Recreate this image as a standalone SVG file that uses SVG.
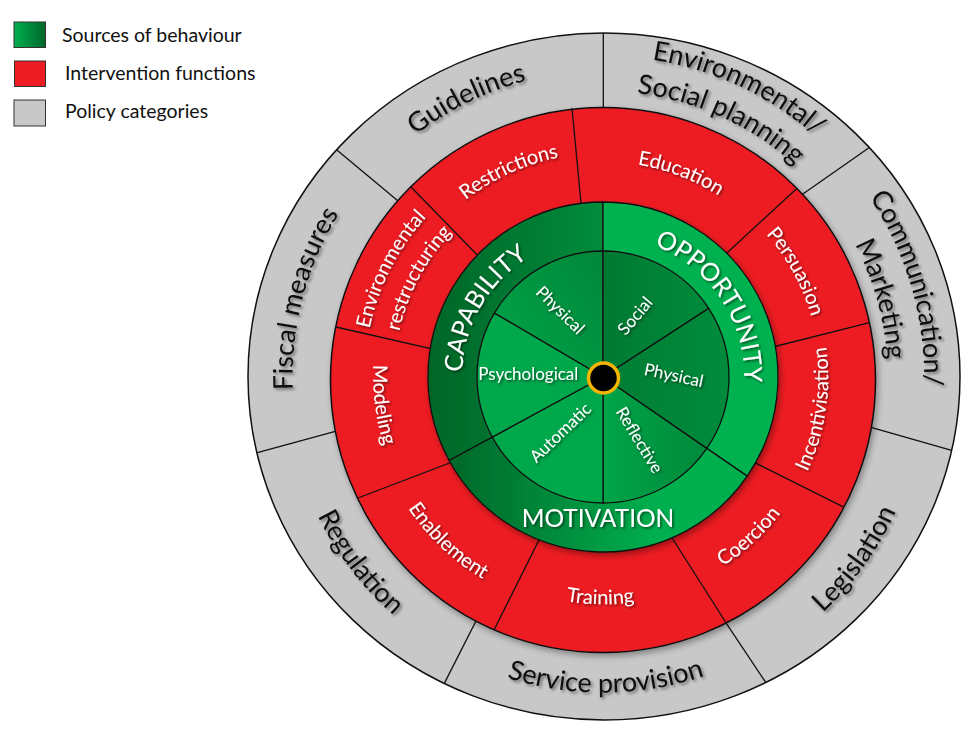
<svg xmlns="http://www.w3.org/2000/svg" width="980" height="741" viewBox="0 0 980 741">
<style>
.lt{font-family:Lato,"Liberation Sans",sans-serif;font-size:19.5px;fill:#111}
.grey{font-family:Lato,"Liberation Sans",sans-serif;font-size:27px;fill:#111;filter:url(#tsg)}
.red{font-family:Lato,"Liberation Sans",sans-serif;font-size:20px;fill:#fff;filter:url(#tsw)}
.big{font-family:Lato,"Liberation Sans",sans-serif;font-size:25px;fill:#fff;filter:url(#tsw)}
.in{font-family:Lato,"Liberation Sans",sans-serif;font-size:17px;fill:#fff;filter:url(#tsw)}
.ln{stroke:#111;stroke-width:1.3;fill:none}
.sec{stroke:#111;stroke-width:1.3}
</style>
<defs>
<filter id="tsg" x="-20%" y="-30%" width="140%" height="160%"><feDropShadow dx="2" dy="2" stdDeviation="1.4" flood-color="#000" flood-opacity="0.45"/></filter>
<filter id="tsw" x="-20%" y="-30%" width="140%" height="160%"><feDropShadow dx="1.5" dy="1.5" stdDeviation="1.2" flood-color="#000" flood-opacity="0.55"/></filter>
<filter id="rs" x="-10%" y="-10%" width="120%" height="120%"><feDropShadow dx="2" dy="3" stdDeviation="3" flood-color="#000" flood-opacity="0.35"/></filter>
<linearGradient id="legG" x1="0" y1="0" x2="1" y2="0"><stop offset="0" stop-color="#00b050"/><stop offset="1" stop-color="#00662a"/></linearGradient>
<linearGradient id="capG" gradientUnits="userSpaceOnUse" x1="430" y1="0" x2="603" y2="0"><stop offset="0" stop-color="#006628"/><stop offset="1" stop-color="#008c3b"/></linearGradient>
<linearGradient id="motG" gradientUnits="userSpaceOnUse" x1="445" y1="0" x2="660" y2="0"><stop offset="0" stop-color="#006628"/><stop offset="1" stop-color="#00b04f"/></linearGradient>
<linearGradient id="physCG" gradientUnits="userSpaceOnUse" x1="500" y1="330" x2="603" y2="255"><stop offset="0" stop-color="#00a046"/><stop offset="1" stop-color="#00873a"/></linearGradient>
<linearGradient id="socG" gradientUnits="userSpaceOnUse" x1="603" y1="0" x2="708" y2="0"><stop offset="0" stop-color="#007a33"/><stop offset="1" stop-color="#008a3a"/></linearGradient>
<linearGradient id="physOG" gradientUnits="userSpaceOnUse" x1="603" y1="0" x2="729" y2="0"><stop offset="0" stop-color="#007d35"/><stop offset="1" stop-color="#008b3b"/></linearGradient>
<linearGradient id="refG" gradientUnits="userSpaceOnUse" x1="603" y1="0" x2="710" y2="0"><stop offset="0" stop-color="#00a548"/><stop offset="1" stop-color="#00883a"/></linearGradient>
<path id="pG1" d="M317.5,487.2 A306,306 0 0 1 865,219"/>
<path id="pG2a" d="M325.3,216 A321,321 0 0 1 904.5,487.3"/>
<path id="pG2b" d="M354.1,236.2 A286,286 0 0 1 872.6,472.5"/>
<path id="pG3a" d="M540.7,62.1 A321,321 0 0 1 719.1,676.3"/>
<path id="pG3b" d="M550.1,97 A285,285 0 0 1 703.7,643.6"/>
<path id="pG4" d="M438.1,653.6 A322,322 0 0 0 813.4,133.2"/>
<path id="pG5" d="M288.5,407.3 A316,316 0 0 0 918,401.8"/>
<path id="pG6" d="M389.7,142.5 A317,317 0 0 0 772.4,645"/>
<path id="pG7" d="M498.5,668.9 A310,310 0 0 1 655.2,71.4"/>
<path id="pR1" d="M392,452.2 A224,224 0 0 1 797.8,266.4"/>
<path id="pR2" d="M409.6,283.1 A215,215 0 0 1 809.8,435.9"/>
<path id="pR3" d="M515.8,178.3 A217,217 0 0 1 723.4,557.5"/>
<path id="pR4" d="M588.9,601.6 A225,225 0 0 0 655.9,158.3"/>
<path id="pR5" d="M451.4,541.9 A224,224 0 0 0 780.9,240.9"/>
<path id="pR6" d="M376.6,394 A227,227 0 0 0 828.9,399.5"/>
<path id="pR7" d="M418.8,231 A235,235 0 0 0 759,552.7"/>
<path id="pR8" d="M554.4,152.2 A230,230 0 0 0 611.8,606.8"/>
<path id="pR9a" d="M477.2,579.1 A238,238 0 0 1 691.8,156.2"/>
<path id="pR9b" d="M488.6,551.9 A209,209 0 0 1 685.3,184.9"/>
<path id="pCap" d="M512.4,485 A141,141 0 0 1 651.2,244.5"/>
<path id="pOpp" d="M547.2,247.5 A141,141 0 0 1 699.8,479.6"/>
</defs>

<g id="legend">
<rect x="14" y="22" width="31.5" height="25.5" fill="url(#legG)" stroke="#333" stroke-width="1"/>
<text class="lt" x="62" y="42">Sources of behaviour</text>
<rect x="14.5" y="61" width="31" height="25.5" fill="#ed1c24" stroke="#333" stroke-width="1"/>
<text class="lt" x="65" y="80">Intervention functions</text>
<rect x="14" y="100" width="31.5" height="26" fill="#c8c8c8" stroke="#333" stroke-width="1"/>
<text class="lt" x="65" y="118">Policy categories</text>
</g>

<g id="policy-ring">
<ellipse cx="604" cy="376.5" rx="356" ry="343.5" fill="#c8c8c8" stroke="#111" stroke-width="1.5"/>
</g>
<g id="policy-dividers" class="ln">
<line x1="603.3" y1="33" x2="603.3" y2="130"/>
<line x1="336.6" y1="149.7" x2="420" y2="219.2"/>
<line x1="256.5" y1="452.8" x2="360" y2="424.6"/>
<line x1="444.2" y1="683.6" x2="485" y2="603.3"/>
<line x1="765.9" y1="682.7" x2="715" y2="606.4"/>
<line x1="951.7" y1="450.3" x2="850" y2="421.4"/>
<line x1="869" y1="147.7" x2="790" y2="203"/>
</g>

<g id="intervention-ring">
<circle cx="603" cy="380" r="272.5" fill="#ed1c24" stroke="#111" stroke-width="1.5" filter="url(#rs)"/>
</g>
<g id="intervention-dividers" class="ln">
<line x1="572" y1="108" x2="582.6" y2="220"/>
<line x1="410.8" y1="186.8" x2="481" y2="258.8"/>
<line x1="336" y1="327" x2="445" y2="351.9"/>
<line x1="358" y1="498" x2="460" y2="459"/>
<line x1="545" y1="528" x2="494.1" y2="629.8"/>
<line x1="660.6" y1="520" x2="726.2" y2="623"/>
<line x1="744" y1="457.2" x2="843.8" y2="507.1"/>
<line x1="765" y1="349" x2="869.5" y2="322.6"/>
<line x1="717" y1="262.2" x2="796.8" y2="188.4"/>
</g>

<g id="sources" filter="url(#rs)">
<path id="capability" class="sec" fill="url(#capG)" d="M603,377 L449.2,460.5 A175,175 0 0 1 603,202 Z"/>
<path id="opportunity" class="sec" fill="#00b14f" d="M603,377 L603,202 A175,175 0 0 1 747.2,476.1 Z"/>
<path id="motivation" class="sec" fill="url(#motG)" d="M603,377 L747.2,476.1 A175,175 0 0 1 449.2,460.5 Z"/>
</g>
<g id="components">
<path id="physical-cap" class="sec" fill="url(#physCG)" d="M603,377 L494.4,313.1 A126,126 0 0 1 603,251 Z"/>
<path id="social-opp" class="sec" fill="url(#socG)" d="M603,377 L603,251 A126,126 0 0 1 708.7,308.4 Z"/>
<path id="physical-opp" class="sec" fill="url(#physOG)" d="M603,377 L708.7,308.4 A126,126 0 0 1 706.8,448.4 Z"/>
<path id="reflective-mot" class="sec" fill="url(#refG)" d="M603,377 L706.8,448.4 A126,126 0 0 1 603,503 Z"/>
<path id="automatic-mot" class="sec" fill="#00a84c" d="M603,377 L603,503 A126,126 0 0 1 492.3,437.1 Z"/>
<path id="psychological-cap" class="sec" fill="#00a84c" d="M603,377 L492.3,437.1 A126,126 0 0 1 494.4,313.1 Z"/>
</g>

<g id="policy-labels" class="grey" text-anchor="middle">
<text><textPath href="#pG1" startOffset="50%">Guidelines</textPath></text>
<text><textPath href="#pG2a" startOffset="50%">Environmental/</textPath></text>
<text><textPath href="#pG2b" startOffset="50%">Social planning</textPath></text>
<text><textPath href="#pG3a" startOffset="50%">Communication/</textPath></text>
<text><textPath href="#pG3b" startOffset="50%">Marketing</textPath></text>
<text><textPath href="#pG4" startOffset="50%">Legislation</textPath></text>
<text><textPath href="#pG5" startOffset="50%">Service provision</textPath></text>
<text><textPath href="#pG6" startOffset="50%">Regulation</textPath></text>
<text><textPath href="#pG7" startOffset="50%">Fiscal measures</textPath></text>
</g>

<g id="intervention-labels" class="red" text-anchor="middle">
<text><textPath href="#pR1" startOffset="50%">Restrictions</textPath></text>
<text><textPath href="#pR2" startOffset="50%">Education</textPath></text>
<text><textPath href="#pR3" startOffset="50%">Persuasion</textPath></text>
<text><textPath href="#pR4" startOffset="50%">Incentivisation</textPath></text>
<text><textPath href="#pR5" startOffset="50%">Coercion</textPath></text>
<text><textPath href="#pR6" startOffset="50%">Training</textPath></text>
<text><textPath href="#pR7" startOffset="50%">Enablement</textPath></text>
<text><textPath href="#pR8" startOffset="50%">Modeling</textPath></text>
<text><textPath href="#pR9a" startOffset="50%">Environmental</textPath></text>
<text><textPath href="#pR9b" startOffset="50%">restructuring</textPath></text>
</g>

<g id="source-labels" class="big" text-anchor="middle">
<text><textPath href="#pCap" startOffset="50%">CAPABILITY</textPath></text>
<text><textPath href="#pOpp" startOffset="50%">OPPORTUNITY</textPath></text>
<text x="598" y="527" font-size="24.5">MOTIVATION</text>
</g>

<g id="component-labels" class="in" text-anchor="middle">
<text transform="translate(560.3,310) rotate(44.5)" dy="0.35em">Physical</text>
<text transform="translate(635,315.8) rotate(-50)" dy="0.35em">Social</text>
<text x="528.3" y="380">Psychological</text>
<text transform="translate(672.5,381) rotate(12)">Physical</text>
<text transform="translate(560.3,432.5) rotate(-43.6)" dy="0.35em">Automatic</text>
<text transform="translate(639.5,440) rotate(58.8)" dy="0.35em">Reflective</text>
</g>

<g id="hub">
<circle cx="603.5" cy="378" r="15" fill="#000" stroke="#f5b400" stroke-width="3.5"/>
</g>
</svg>
